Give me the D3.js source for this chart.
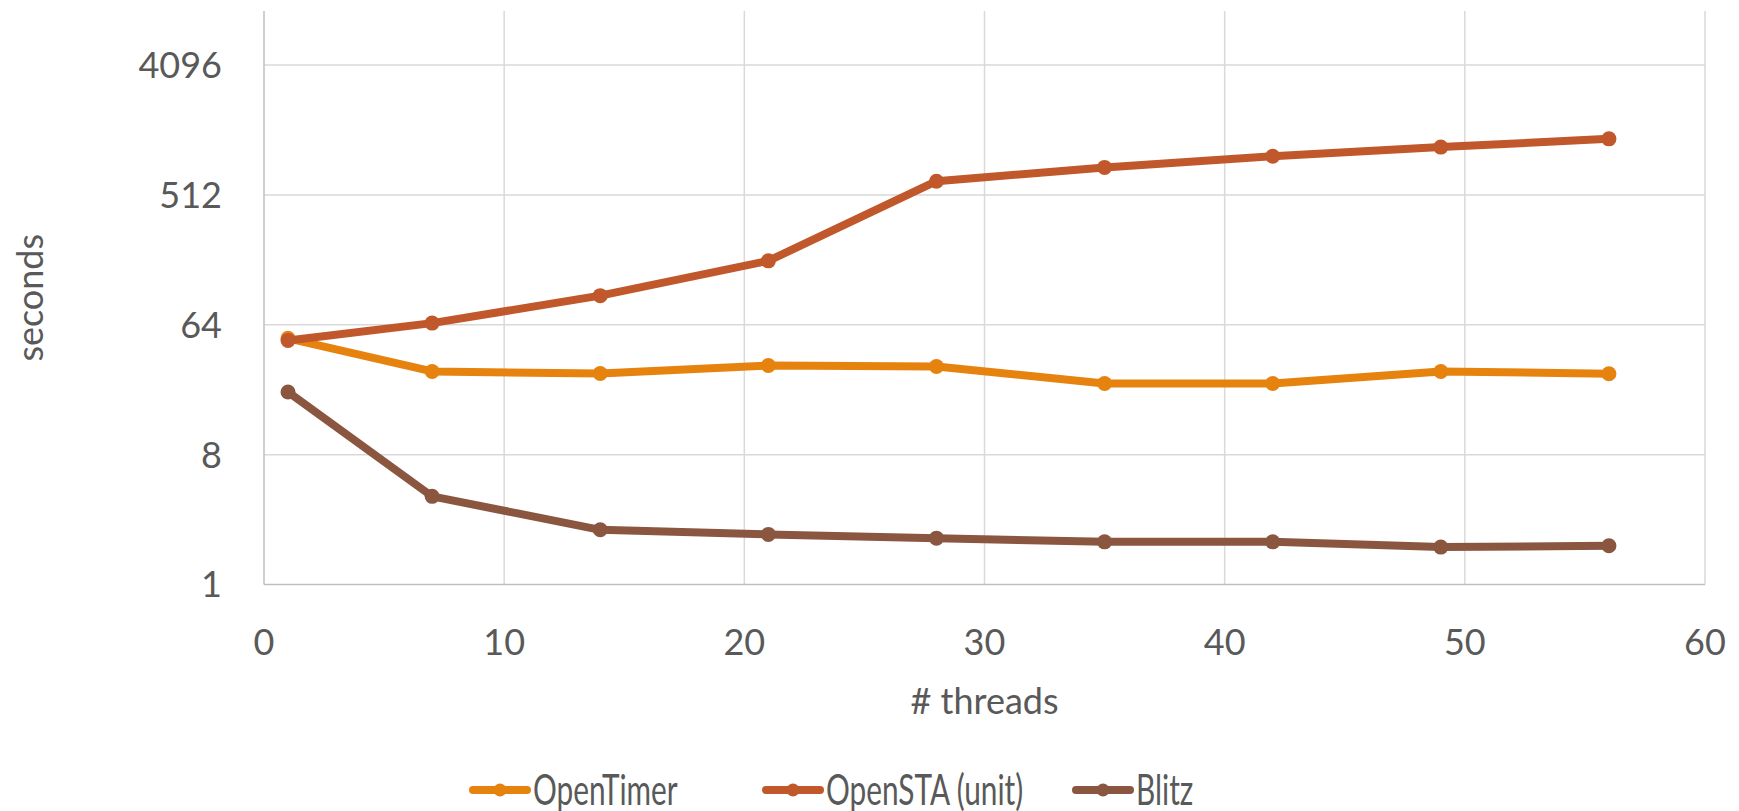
<!DOCTYPE html>
<html>
<head>
<meta charset="utf-8">
<script src="https://cdn.jsdelivr.net/npm/d3@7"></script>
<style>
  html, body { margin: 0; padding: 0; background: #fff; }
  text { font-family: Lato, "Open Sans", sans-serif; fill: #595959; }
</style>
</head>
<body>
<div id="chart"></div>
<script>
// --- data ---
const threads   = [1, 7, 14, 21, 28, 35, 42, 49, 56];
const openTimer = [51.5, 30.3, 29.3, 33.3, 32.8, 25, 25, 30.3, 29.2];
const openSTA   = [49.8, 65.7, 102, 178, 637, 795, 950, 1100, 1256];
const blitz     = [21.8, 4.1, 2.4, 2.23, 2.1, 1.98, 1.98, 1.82, 1.86];
const seriesNames = ["OpenTimer", "OpenSTA (unit)", "Blitz"];
const xTicks = [0, 10, 20, 30, 40, 50, 60];
const yTicks = [1, 8, 64, 512, 4096];

// --- dimensions ---
const width = 1739, height = 811;
const plot = { left: 264, right: 1705, top: 11, bottom: 584.5, top4096: 65 };

const colors = {
  series: ["#E6830F", "#C0582B", "#8A5640"],
  grid: "#d9d9d9",
  axis: "#bfbfbf",
  text: "#595959"
};

const series = [openTimer, openSTA, blitz].map((vals, i) => ({
  name: seriesNames[i],
  color: colors.series[i],
  values: threads.map((t, j) => ({ x: t, y: vals[j] }))
}));

const svg = d3.select("#chart").append("svg")
  .attr("width", width)
  .attr("height", height);

const x = d3.scaleLinear().domain([0, 60]).range([plot.left, plot.right]);
const y = d3.scaleLog().base(2).domain([1, 4096]).range([plot.bottom, plot.top4096]);

// --- gridlines ---
svg.append("g")
  .selectAll("line")
  .data(yTicks.slice(1))
  .join("line")
  .attr("x1", plot.left).attr("x2", plot.right)
  .attr("y1", d => y(d)).attr("y2", d => y(d))
  .attr("stroke", colors.grid).attr("stroke-width", 1.5);

svg.append("g")
  .selectAll("line")
  .data(xTicks.slice(1))
  .join("line")
  .attr("x1", d => x(d)).attr("x2", d => x(d))
  .attr("y1", plot.top).attr("y2", plot.bottom)
  .attr("stroke", colors.grid).attr("stroke-width", 1.5);

// axis lines
svg.append("line")
  .attr("x1", plot.left).attr("x2", plot.left)
  .attr("y1", plot.top).attr("y2", plot.bottom)
  .attr("stroke", colors.axis).attr("stroke-width", 1.5);
svg.append("line")
  .attr("x1", plot.left).attr("x2", plot.right)
  .attr("y1", plot.bottom).attr("y2", plot.bottom)
  .attr("stroke", colors.axis).attr("stroke-width", 1.5);

// --- tick labels ---
svg.append("g")
  .selectAll("text")
  .data(yTicks)
  .join("text")
  .attr("x", 222)
  .attr("y", d => y(d))
  .attr("dy", "0.36em")
  .attr("text-anchor", "end")
  .style("font-size", "36px")
  .text(d => d);

svg.append("g")
  .selectAll("text")
  .data(xTicks)
  .join("text")
  .attr("x", d => x(d))
  .attr("y", 655)
  .attr("text-anchor", "middle")
  .style("font-size", "36px")
  .text(d => d);

// axis titles
svg.append("text")
  .attr("x", (plot.left + plot.right) / 2)
  .attr("y", 714)
  .attr("text-anchor", "middle")
  .style("font-size", "36px")
  .text("# threads");

svg.append("text")
  .attr("transform", `translate(43, ${(plot.top + plot.bottom) / 2}) rotate(-90)`)
  .attr("text-anchor", "middle")
  .style("font-size", "36px")
  .text("seconds");

// --- lines + markers ---
const line = d3.line().x(d => x(d.x)).y(d => y(d.y));

const sg = svg.append("g")
  .selectAll("g")
  .data(series)
  .join("g");

sg.append("path")
  .attr("d", d => line(d.values))
  .attr("fill", "none")
  .attr("stroke", d => d.color)
  .attr("stroke-width", 8)
  .attr("stroke-linejoin", "round");

sg.selectAll("circle")
  .data(d => d.values.map(v => ({ ...v, color: d.color })))
  .join("circle")
  .attr("cx", d => x(d.x))
  .attr("cy", d => y(d.y))
  .attr("r", 7.5)
  .attr("fill", d => d.color);

// --- legend ---
const legendX = [471, 764, 1074];
const legendY = 790;
const lg = svg.append("g")
  .selectAll("g")
  .data(series)
  .join("g")
  .attr("transform", (d, i) => `translate(${legendX[i]},${legendY})`);

lg.append("line")
  .attr("x1", 2).attr("x2", 56)
  .attr("stroke", d => d.color)
  .attr("stroke-width", 8)
  .attr("stroke-linecap", "round");
lg.append("circle")
  .attr("cx", 29).attr("r", 6.5)
  .attr("fill", d => d.color);
lg.append("text")
  .attr("transform", "translate(62,0) scale(0.71,1)")
  .attr("dy", "0.36em")
  .style("font-size", "42px")
  .text(d => d.name);
</script>
</body>
</html>
